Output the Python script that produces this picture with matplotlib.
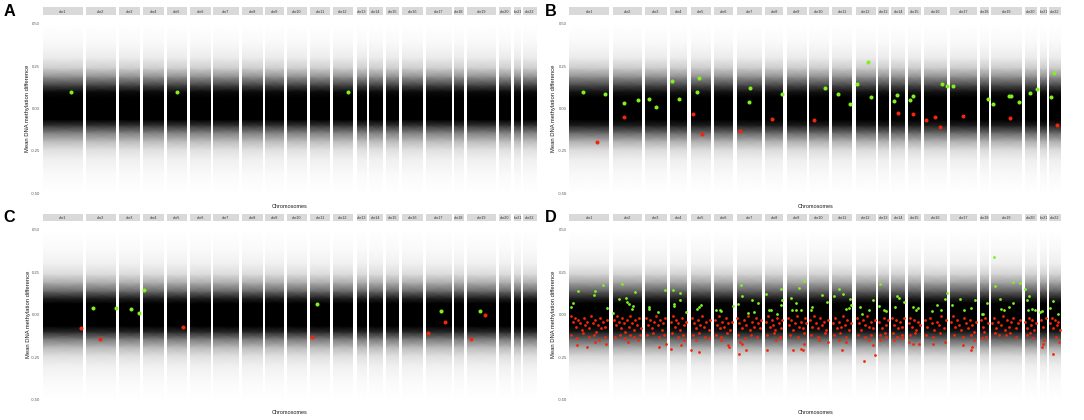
import matplotlib
matplotlib.use('Agg')
import matplotlib.pyplot as plt

plt.rcParams['font.family'] = ['Liberation Sans', 'DejaVu Sans']

# Data
chromosomes = ['chr%d' % i for i in range(1, 23)]

# darkness of the background CpG cloud at given methylation-difference levels
cloud_levels = [-0.50, -0.38, -0.30, -0.24, -0.19, -0.14, -0.10, -0.065,
                0.065, 0.10, 0.14, 0.19, 0.24, 0.30, 0.38, 0.50]
a_cloud = [0.0, 0.025, 0.06, 0.13, 0.28, 0.52, 0.80, 1.0, 1.0, 0.95, 0.72, 0.42, 0.19, 0.08, 0.03, 0.0]
b_cloud = [0.0, 0.03, 0.07, 0.15, 0.33, 0.62, 0.88, 1.0, 1.0, 0.92, 0.70, 0.42, 0.20, 0.08, 0.03, 0.0]
c_cloud = [0.0, 0.025, 0.06, 0.13, 0.28, 0.55, 0.85, 1.0, 1.0, 0.86, 0.58, 0.32, 0.14, 0.06, 0.025, 0.0]
d_cloud = [0.0, 0.03, 0.07, 0.16, 0.35, 0.64, 0.90, 1.0, 1.0, 0.86, 0.62, 0.36, 0.17, 0.07, 0.03, 0.0]

# highlighted CpGs: chromosome -> (relative position on chromosome, mean difference)
a_green = {'chr1': [(0.70, 0.095)], 'chr5': [(0.51, 0.095)], 'chr12': [(0.73, 0.100)]}
a_red = {}

b_green = {
    'chr1': [(0.35, 0.095), (0.90, 0.085)],
    'chr2': [(0.39, 0.034), (0.85, 0.053)],
    'chr3': [(0.19, 0.059), (0.51, 0.010)],
    'chr4': [(0.09, 0.160), (0.52, 0.059)],
    'chr5': [(0.32, 0.095), (0.42, 0.180)],
    'chr7': [(0.49, 0.038), (0.52, 0.119)],
    'chr8': [(0.94, 0.085)],
    'chr10': [(0.80, 0.119)],
    'chr11': [(0.28, 0.085), (0.86, 0.024)],
    'chr12': [(0.05, 0.142), (0.59, 0.275), (0.77, 0.069)],
    'chr14': [(0.22, 0.043), (0.43, 0.079)],
    'chr15': [(0.16, 0.051), (0.37, 0.075)],
    'chr16': [(0.76, 0.144), (0.98, 0.132)],
    'chr17': [(0.13, 0.132)],
    'chr18': [(0.92, 0.055)],
    'chr19': [(0.07, 0.024), (0.60, 0.073), (0.66, 0.075), (0.90, 0.040)],
    'chr20': [(0.40, 0.093), (0.97, 0.117)],
    'chr22': [(0.18, 0.069), (0.40, 0.211)],
}
b_red = {
    'chr1': [(0.70, -0.196)],
    'chr2': [(0.40, -0.051)],
    'chr5': [(0.09, -0.034), (0.54, -0.152)],
    'chr7': [(0.15, -0.132)],
    'chr8': [(0.35, -0.061)],
    'chr10': [(0.25, -0.067)],
    'chr14': [(0.51, -0.026)],
    'chr15': [(0.42, -0.032)],
    'chr16': [(0.08, -0.069), (0.49, -0.051), (0.67, -0.109)],
    'chr17': [(0.49, -0.047)],
    'chr19': [(0.62, -0.055)],
    'chr22': [(0.65, -0.097)],
}

c_green = {
    'chr2': [(0.24, 0.041), (0.99, 0.037)],
    'chr3': [(0.55, 0.034), (0.94, 0.012)],
    'chr4': [(0.03, 0.144)],
    'chr11': [(0.33, 0.065)],
    'chr17': [(0.60, 0.022)],
    'chr19': [(0.44, 0.020)],
}
c_red = {
    'chr1': [(0.96, -0.081)],
    'chr2': [(0.47, -0.144)],
    'chr5': [(0.78, -0.073)],
    'chr11': [(0.08, -0.132)],
    'chr17': [(0.07, -0.108), (0.72, -0.041)],
    'chr19': [(0.16, -0.144), (0.63, -0.002)],
}

d_green = {
    'chr1': [(0.09, 0.069), (0.22, 0.138), (0.05, 0.045), (0.65, 0.142), (0.62, 0.114), (0.84, 0.176), (0.93, 0.039)],
    'chr2': [(0.01, 0.010), (0.31, 0.179), (0.23, 0.091), (0.46, 0.101), (0.49, 0.075), (0.69, 0.051),
             (0.67, 0.036), (0.54, 0.061), (0.75, 0.134)],
    'chr3': [(0.16, 0.045), (0.19, 0.032), (0.58, 0.018), (0.90, 0.144)],
    'chr4': [(0.20, 0.144), (0.24, 0.065), (0.26, 0.051), (0.60, 0.130), (0.56, 0.085), (0.90, 0.016)],
    'chr5': [(0.31, 0.036), (0.52, 0.059), (0.43, 0.045)],
    'chr6': [(0.12, 0.030), (0.31, 0.026), (0.37, 0.022), (0.98, 0.051)],
    'chr7': [(0.16, 0.174), (0.19, 0.108), (0.06, 0.065), (0.61, 0.089), (0.43, 0.010), (0.69, 0.016), (0.84, 0.069)],
    'chr8': [(0.04, 0.124), (0.19, 0.026), (0.33, 0.026), (0.67, 0.006), (0.87, 0.152), (0.94, 0.085), (0.87, 0.055)],
    'chr9': [(0.19, 0.097), (0.44, 0.069), (0.63, 0.158), (0.84, 0.199), (0.26, 0.026), (0.47, 0.026), (0.73, 0.026)],
    'chr10': [(0.14, 0.045), (0.08, 0.026), (0.66, 0.118), (0.88, 0.075)],
    'chr11': [(0.09, 0.108), (0.31, 0.150), (0.52, 0.120), (0.66, 0.036), (0.83, 0.041), (0.90, 0.095), (0.95, 0.055)],
    'chr12': [(0.22, 0.045), (0.31, 0.006), (0.64, 0.026), (0.86, 0.089)],
    'chr13': [(0.18, 0.181), (0.11, 0.051), (0.54, 0.026), (0.71, 0.024)],
    'chr14': [(0.30, 0.045), (0.40, 0.112), (0.55, 0.099), (0.95, 0.073)],
    'chr15': [(0.42, 0.045), (0.75, 0.039), (0.60, 0.026)],
    'chr16': [(0.36, 0.022), (0.56, 0.055), (0.72, 0.026), (0.92, 0.095), (0.97, 0.128)],
    'chr17': [(0.06, 0.059), (0.38, 0.095), (0.53, 0.026), (0.78, 0.039), (0.94, 0.085)],
    'chr18': [(0.20, 0.006), (0.40, 0.002), (0.80, 0.069)],
    'chr19': [(0.09, 0.341), (0.13, 0.168), (0.30, 0.095), (0.34, 0.032), (0.43, 0.026), (0.72, 0.193),
              (0.72, 0.069), (0.94, 0.187), (0.60, 0.045)],
    'chr20': [(0.05, 0.150), (0.20, 0.089), (0.36, 0.108), (0.28, 0.026), (0.62, 0.036), (0.80, 0.026)],
    'chr21': [(0.10, 0.016), (0.35, 0.022)],
    'chr22': [(0.08, 0.041), (0.33, 0.081), (0.75, 0.006)],
}
d_red = {
    'chr1': [(0.03, -0.01), (0.08, -0.04), (0.13, -0.02), (0.17, -0.07), (0.22, -0.03), (0.27, -0.05), (0.31, -0.09),
             (0.36, -0.02), (0.40, -0.06), (0.45, -0.04), (0.50, -0.08), (0.54, -0.01), (0.58, -0.05), (0.63, -0.03),
             (0.67, -0.10), (0.71, -0.06), (0.76, -0.02), (0.80, -0.08), (0.85, -0.04), (0.90, -0.07), (0.95, -0.03),
             (0.05, -0.12), (0.19, -0.14), (0.33, -0.11), (0.48, -0.13), (0.61, -0.12), (0.74, -0.15), (0.88, -0.13),
             (0.18, -0.18), (0.43, -0.19), (0.64, -0.16), (0.92, -0.17)],
    'chr2': [(0.04, -0.03), (0.10, -0.06), (0.15, -0.01), (0.21, -0.04), (0.27, -0.08), (0.32, -0.02), (0.38, -0.05),
             (0.43, -0.10), (0.49, -0.03), (0.55, -0.07), (0.60, -0.01), (0.66, -0.05), (0.72, -0.09), (0.77, -0.03),
             (0.83, -0.06), (0.89, -0.02), (0.95, -0.08), (0.08, -0.13), (0.25, -0.12), (0.41, -0.14), (0.58, -0.12),
             (0.74, -0.13), (0.92, -0.12), (0.52, -0.16), (0.85, -0.15)],
    'chr3': [(0.05, -0.02), (0.14, -0.06), (0.22, -0.03), (0.31, -0.08), (0.40, -0.04), (0.49, -0.01), (0.58, -0.06),
             (0.67, -0.03), (0.76, -0.09), (0.85, -0.05), (0.94, -0.02), (0.10, -0.12), (0.35, -0.11), (0.62, -0.13),
             (0.88, -0.12), (0.65, -0.19), (0.95, -0.17)],
    'chr4': [(0.06, -0.04), (0.16, -0.01), (0.27, -0.07), (0.37, -0.03), (0.48, -0.05), (0.58, -0.09), (0.69, -0.02),
             (0.79, -0.06), (0.90, -0.04), (0.12, -0.11), (0.44, -0.13), (0.74, -0.12), (0.06, -0.20), (0.62, -0.18),
             (0.80, -0.15)],
    'chr5': [(0.05, -0.02), (0.15, -0.05), (0.26, -0.08), (0.36, -0.03), (0.47, -0.06), (0.57, -0.01), (0.68, -0.07),
             (0.78, -0.04), (0.89, -0.09), (0.96, -0.03), (0.10, -0.12), (0.40, -0.11), (0.70, -0.13), (0.92, -0.14),
             (0.02, -0.21), (0.40, -0.22), (0.25, -0.15)],
    'chr6': [(0.04, -0.03), (0.14, -0.06), (0.24, -0.01), (0.33, -0.08), (0.43, -0.04), (0.53, -0.07), (0.63, -0.02),
             (0.72, -0.05), (0.82, -0.09), (0.92, -0.04), (0.09, -0.12), (0.38, -0.13), (0.67, -0.11), (0.72, -0.18),
             (0.78, -0.19), (0.37, -0.15)],
    'chr7': [(0.03, -0.02), (0.11, -0.05), (0.19, -0.08), (0.27, -0.03), (0.35, -0.06), (0.43, -0.01), (0.51, -0.09),
             (0.59, -0.04), (0.67, -0.07), (0.75, -0.02), (0.83, -0.05), (0.91, -0.08), (0.97, -0.03), (0.07, -0.12),
             (0.31, -0.14), (0.55, -0.12), (0.79, -0.13), (0.09, -0.23), (0.38, -0.21), (0.20, -0.17), (0.15, -0.16)],
    'chr8': [(0.05, -0.04), (0.15, -0.01), (0.25, -0.07), (0.35, -0.03), (0.45, -0.06), (0.55, -0.09), (0.65, -0.02),
             (0.75, -0.05), (0.85, -0.08), (0.95, -0.03), (0.12, -0.12), (0.48, -0.11), (0.80, -0.13), (0.08, -0.21),
             (0.62, -0.15), (0.82, -0.14)],
    'chr9': [(0.04, -0.02), (0.13, -0.06), (0.23, -0.03), (0.32, -0.09), (0.42, -0.05), (0.51, -0.01), (0.61, -0.07),
             (0.70, -0.04), (0.80, -0.08), (0.89, -0.02), (0.97, -0.05), (0.18, -0.12), (0.56, -0.13), (0.85, -0.11),
             (0.30, -0.21), (0.72, -0.20), (0.79, -0.21), (0.86, -0.17)],
    'chr10': [(0.05, -0.03), (0.15, -0.07), (0.25, -0.01), (0.35, -0.05), (0.45, -0.08), (0.55, -0.02), (0.65, -0.06),
              (0.75, -0.04), (0.85, -0.09), (0.95, -0.03), (0.10, -0.12), (0.45, -0.13), (0.80, -0.11), (0.93, -0.16),
              (0.50, -0.15)],
    'chr11': [(0.04, -0.05), (0.14, -0.02), (0.24, -0.08), (0.34, -0.04), (0.44, -0.07), (0.54, -0.01), (0.64, -0.06),
              (0.74, -0.03), (0.84, -0.09), (0.94, -0.05), (0.09, -0.12), (0.39, -0.11), (0.69, -0.13), (0.48, -0.21),
              (0.70, -0.16), (0.35, -0.15)],
    'chr12': [(0.05, -0.02), (0.15, -0.05), (0.25, -0.09), (0.35, -0.03), (0.45, -0.06), (0.55, -0.01), (0.65, -0.07),
              (0.75, -0.04), (0.85, -0.08), (0.95, -0.03), (0.13, -0.12), (0.45, -0.13), (0.78, -0.12), (0.39, -0.27),
              (0.86, -0.18), (0.96, -0.24), (0.65, -0.15)],
    'chr13': [(0.10, -0.04), (0.30, -0.08), (0.50, -0.02), (0.70, -0.06), (0.90, -0.03), (0.20, -0.12), (0.60, -0.11),
              (0.18, -0.15), (0.70, -0.13)],
    'chr14': [(0.07, -0.02), (0.21, -0.06), (0.35, -0.03), (0.50, -0.08), (0.64, -0.04), (0.78, -0.07), (0.92, -0.02),
              (0.14, -0.11), (0.45, -0.13), (0.75, -0.12), (0.20, -0.15), (0.75, -0.14)],
    'chr15': [(0.07, -0.05), (0.21, -0.02), (0.35, -0.07), (0.50, -0.03), (0.64, -0.09), (0.78, -0.04), (0.92, -0.06),
              (0.14, -0.12), (0.57, -0.11), (0.10, -0.16), (0.43, -0.17), (0.88, -0.17)],
    'chr16': [(0.05, -0.03), (0.15, -0.07), (0.25, -0.02), (0.35, -0.05), (0.45, -0.09), (0.55, -0.04), (0.65, -0.06),
              (0.75, -0.01), (0.85, -0.08), (0.95, -0.03), (0.10, -0.12), (0.40, -0.13), (0.70, -0.11), (0.39, -0.17),
              (0.89, -0.16)],
    'chr17': [(0.03, -0.04), (0.11, -0.01), (0.19, -0.07), (0.27, -0.03), (0.35, -0.06), (0.43, -0.09), (0.51, -0.02),
              (0.59, -0.05), (0.67, -0.08), (0.75, -0.03), (0.83, -0.06), (0.91, -0.10), (0.97, -0.04), (0.15, -0.12),
              (0.47, -0.13), (0.79, -0.12), (0.47, -0.18), (0.78, -0.21), (0.84, -0.19), (0.91, -0.15)],
    'chr18': [(0.10, -0.03), (0.35, -0.07), (0.60, -0.02), (0.85, -0.05), (0.20, -0.14), (0.70, -0.13), (0.50, -0.10)],
    'chr19': [(0.03, -0.05), (0.10, -0.02), (0.17, -0.08), (0.24, -0.04), (0.31, -0.06), (0.38, -0.01), (0.45, -0.09),
              (0.52, -0.03), (0.59, -0.07), (0.66, -0.04), (0.73, -0.02), (0.80, -0.08), (0.87, -0.05), (0.94, -0.03),
              (0.13, -0.11), (0.26, -0.12), (0.49, -0.12), (0.83, -0.13), (0.62, -0.11)],
    'chr20': [(0.06, -0.04), (0.20, -0.08), (0.34, -0.02), (0.48, -0.06), (0.62, -0.03), (0.76, -0.09), (0.90, -0.05),
              (0.15, -0.12), (0.66, -0.14), (0.40, -0.11)],
    'chr21': [(0.15, -0.03), (0.50, -0.07), (0.85, -0.02), (0.35, -0.19), (0.50, -0.17), (0.60, -0.15)],
    'chr22': [(0.07, -0.05), (0.21, -0.02), (0.35, -0.08), (0.50, -0.03), (0.64, -0.06), (0.78, -0.04), (0.92, -0.09),
              (0.33, -0.23), (0.87, -0.16), (0.62, -0.13)],
}

y_ticks = [-0.5, -0.25, 0.0, 0.25, 0.5]
y_ticklabels = ['-0.50', '-0.25', '0.00', '0.25', '0.50']

# Layout (pixels)
W, H = 1084, 420
GREEN = '#80f020'
RED = '#f5250a'

# facet edges of the left (A, C) and right (B, D) panels
left_l = [42.7, 85.7, 119, 143, 166.7, 190, 213, 242, 265.3, 286.7, 310, 333, 356.7, 369, 385.7, 402,
          426, 454, 466.7, 499, 514, 523]
left_r = [82.7, 116, 140, 164, 187.3, 210.7, 239, 262.7, 284, 306.7, 330, 353, 366.7, 383, 399, 422.7,
          451.7, 464, 496, 511, 520.7, 537]
right_l = [569.3, 612.7, 645.3, 670, 690.7, 714, 736.7, 765.3, 786.7, 809, 832.3, 855.7, 878.3, 891.3,
           907.7, 924, 950, 979.7, 991, 1024.7, 1039.7, 1049]
right_r = [609.3, 642, 666.7, 687.3, 710.7, 733.3, 762, 783.3, 806.7, 829, 852.3, 875.7, 889, 905, 921,
           947.3, 976.7, 989, 1021.7, 1037, 1046.7, 1061]

fig = plt.figure(figsize=(W / 100, H / 100), dpi=100)


def px_axes(left, top, right, bottom):
    return fig.add_axes([left / W, 1 - bottom / H, (right - left) / W, (bottom - top) / H])


def draw_panel(letter, lefts, rights, strip_top, top, bottom, cloud, green, red, dot, letter_x, ylab_x):
    mesh_x = [[0.0, 1.0] for _ in cloud_levels]
    mesh_y = [[lv, lv] for lv in cloud_levels]
    mesh_c = [[d, d] for d in cloud]
    for i, chrom in enumerate(chromosomes):
        ax = px_axes(lefts[i], top, rights[i], bottom)
        # smooth darkness of the dense CpG cloud
        ax.pcolormesh(mesh_x, mesh_y, mesh_c, shading='gouraud', cmap='gray_r', vmin=0, vmax=1,
                      rasterized=True)
        for pts, col in ((green.get(chrom, []), GREEN), (red.get(chrom, []), RED)):
            if pts:
                xs = [p[0] for p in pts]
                ys = [p[1] for p in pts]
                ax.scatter(xs, ys, s=dot, color=col, linewidths=0, clip_on=False, zorder=3)
        ax.set_xlim(0, 1)
        ax.set_ylim(-0.55, 0.55)
        ax.set_xticks([])
        for sp in ax.spines.values():
            sp.set_visible(False)
        ax.patch.set_alpha(0)
        if i == 0:
            ax.set_yticks(y_ticks)
            ax.set_yticklabels(y_ticklabels)
            ax.tick_params(axis='y', length=0, pad=1.9, labelsize=3.0, labelcolor='#555555')
        else:
            ax.set_yticks([])

        sax = px_axes(lefts[i], strip_top, rights[i], top - 0.4)
        sax.set_facecolor('#d9d9d9')
        sax.set_xticks([])
        sax.set_yticks([])
        for sp in sax.spines.values():
            sp.set_visible(False)
        sax.text(0.5, 0.45, chrom, ha='center', va='center', fontsize=2.7, color='#333333',
                 transform=sax.transAxes, clip_on=True)

    mid_y = (top + bottom) / 2
    fig.text(ylab_x / W, 1 - mid_y / H, 'Mean DNA methylation difference', rotation=90,
             ha='center', va='center', fontsize=4.2, color='#1a1a1a')
    fig.text((lefts[0] + rights[-1]) / 2 / W, 1 - (bottom + 5) / H, 'Chromosomes',
             ha='center', va='center', fontsize=4.0, color='#1a1a1a')
    fig.text(letter_x / W, 1 - (strip_top - 3) / H, letter, ha='left', va='top',
             fontsize=11.7, fontweight='bold', color='black')


draw_panel('A', left_l, left_r, 7.3, 15.5, 201.5, a_cloud, a_green, a_red, 8.5, 3.3, 27.5)
draw_panel('B', right_l, right_r, 7.3, 15.5, 201.5, b_cloud, b_green, b_red, 8.5, 545, 554)
draw_panel('C', left_l, left_r, 213.5, 221.5, 408, c_cloud, c_green, c_red, 8.5, 3.3, 28.5)
draw_panel('D', right_l, right_r, 213.5, 221.5, 408, d_cloud, d_green, d_red, 4.0, 545, 554)

fig.savefig('out.png', dpi=100, facecolor='white')
